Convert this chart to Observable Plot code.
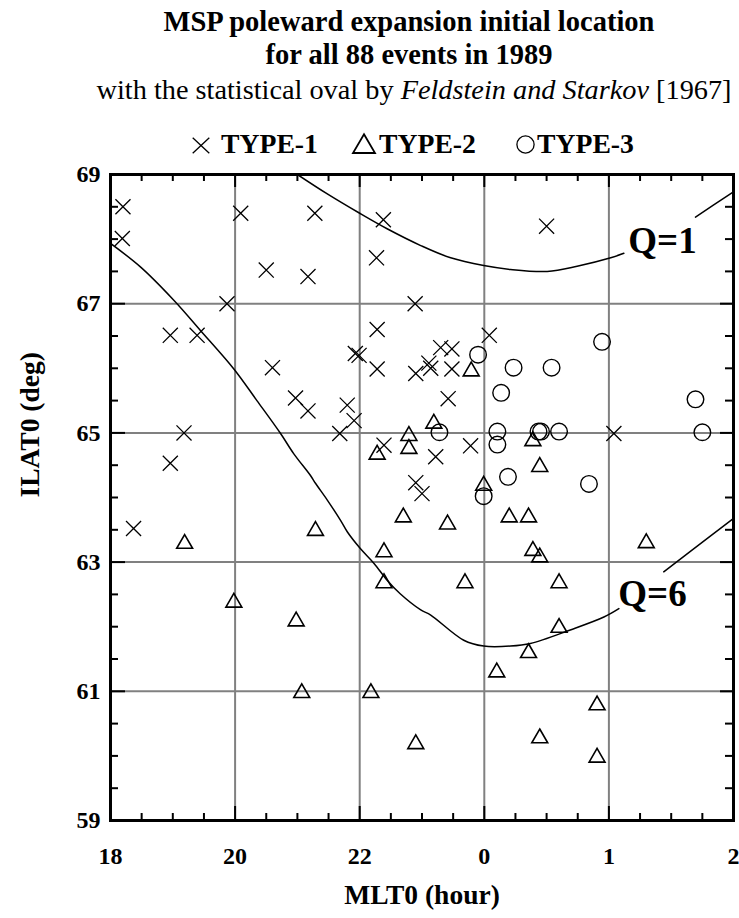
<!DOCTYPE html>
<html>
<head>
<meta charset="utf-8">
<script src="https://cdn.jsdelivr.net/npm/d3@7"></script>
<script src="https://cdn.jsdelivr.net/npm/@observablehq/plot@0.6"></script>
<style>
  html, body { margin: 0; padding: 0; background: #fff; }
  body { width: 739px; height: 918px; position: relative; overflow: hidden;
         font-family: "Liberation Serif", "Times New Roman", serif; color: #000; }
  .h { position: absolute; text-align: center; white-space: nowrap; line-height: 1; }
  .b { font-weight: bold; }
  .leg { position: absolute; white-space: nowrap; line-height: 1; font-weight: bold; font-size: 27.7px; }
  .sym { position: absolute; overflow: visible; }
  #chart { position: absolute; left: 0; top: 160px; }
</style>
</head>
<body>
<div class="h b" style="left:109px;width:600px;top:7.8px;font-size:28.5px">MSP poleward expansion initial location</div>
<div class="h b" style="left:109px;width:600px;top:41.1px;font-size:28.5px">for all 88 events in 1989</div>
<div class="h" style="left:14px;width:800px;top:76.3px;font-size:28.3px">with the statistical oval by <i>Feldstein and Starkov</i> [1967]</div>

<svg class="sym" style="left:192px;top:136.5px" width="18" height="17"><path d="M0.7,0.7L17.3,16.3M17.3,0.7L0.7,16.3" stroke="#000" stroke-width="1.3" fill="none"/></svg>
<div class="leg" style="left:221px;top:129.8px">TYPE-1</div>
<svg class="sym" style="left:352px;top:133px" width="24" height="21"><polygon points="12,1.2 23,20 1,20" stroke="#000" stroke-width="1.8" fill="none"/></svg>
<div class="leg" style="left:379px;top:129.8px">TYPE-2</div>
<svg class="sym" style="left:515.5px;top:135px" width="19" height="19"><circle cx="9.5" cy="9.5" r="8.6" stroke="#000" stroke-width="1.3" fill="none"/></svg>
<div class="leg" style="left:537px;top:129.8px">TYPE-3</div>

<div id="chart"></div>

<script>
// ---------- axis ticks ----------
const xTicks = [18, 20, 22, 24, 26, 28];
const xTickLabels = ["18", "20", "22", "0", "1", "2"];
const xGrid = [20, 22, 24, 26];
const xMinor = [18.5, 19, 19.5, 20.5, 21, 21.5, 22.5, 23, 23.5, 24.5, 25, 25.5, 26.5, 27, 27.5];
const yTicks = [59, 61, 63, 65, 67, 69];
const yGrid = [61, 63, 65, 67];
const yMinor = [59.5, 60, 60.5, 61.5, 62, 62.5, 63.5, 64, 64.5, 65.5, 66, 66.5, 67.5, 68, 68.5];

// ---------- TYPE-1 events (x) ----------
const type1MLT = [18.20, 18.19, 20.09, 21.28, 22.38, 22.27, 20.50, 21.17, 19.87, 22.89,
                  18.96, 19.39, 22.28, 21.93, 21.99, 20.60, 22.28, 22.90, 20.97, 21.17,
                  21.80, 21.91, 21.68, 19.18, 18.96, 22.39, 22.90, 23.00, 25.00, 24.08,
                  23.30, 23.48, 23.11, 23.14, 23.48, 23.42, 23.78, 23.22, 26.08, 18.37];
const type1ILAT = [68.50, 68.01, 68.40, 68.40, 68.30, 67.71, 67.52, 67.42, 67.00, 67.00,
                   66.51, 66.51, 66.60, 66.23, 66.20, 66.01, 65.99, 65.92, 65.54, 65.34,
                   65.43, 65.19, 64.99, 65.00, 64.53, 64.81, 64.23, 64.06, 68.20, 66.51,
                   66.32, 66.30, 66.08, 66.00, 65.99, 65.53, 64.80, 64.63, 64.99, 63.52];

// ---------- TYPE-2 events (triangle) ----------
const type2MLT = [22.79, 22.79, 22.28, 23.79, 23.19, 24.78, 24.89, 23.99, 23.41, 24.40,
                  24.71, 24.78, 24.89, 26.60, 23.69, 25.20, 25.20, 24.71, 24.20, 25.81,
                  24.89, 25.81, 22.90, 19.19, 21.29, 22.70, 22.39, 22.39, 19.98, 20.98,
                  21.07, 22.18];
const type2ILAT = [64.99, 64.79, 64.70, 65.99, 65.18, 64.91, 64.51, 64.22, 63.62, 63.73,
                   63.73, 63.21, 63.11, 63.33, 62.71, 62.71, 62.02, 61.63, 61.33, 60.82,
                   60.31, 60.01, 60.22, 63.32, 63.52, 63.73, 63.19, 62.71, 62.41, 62.12,
                   61.01, 61.01];

// ---------- TYPE-3 events (circle) ----------
const type3MLT = [23.90, 24.47, 25.08, 25.89, 24.27, 27.39, 23.28, 24.21, 24.21, 24.87,
                  24.91, 25.20, 27.50, 24.38, 25.68, 23.99];
const type3ILAT = [66.21, 66.01, 66.01, 66.41, 65.62, 65.52, 65.01, 65.02, 64.82, 65.02,
                   65.02, 65.02, 65.01, 64.32, 64.21, 64.02];

// ---------- Feldstein & Starkov oval boundaries ----------
const q1Seg = ["a","a","a","a","a","a","a","a","a","a","a","a","b","b","b"];
const q1MLT = [21.00, 21.48, 22.00, 22.44, 22.98, 23.46, 23.99, 24.42, 25.01, 25.49, 26.03, 26.24, 27.39, 27.95, 28.00];
const q1ILAT = [69.00, 68.70, 68.40, 68.16, 67.90, 67.71, 67.59, 67.53, 67.50, 67.58, 67.71, 67.78, 68.34, 68.70, 68.73];

const q6Seg = ["a","a","a","a","a","a","a","a","a","a","a","a","a","a","a","a","a","a","a","a","a","a","a","a","a","a","b","b","b"];
const q6MLT = [17.92, 18.48, 19.02, 19.44, 19.98, 20.35, 20.73, 20.94, 21.21, 21.29, 21.48, 21.69, 21.80, 22.01, 22.23,
               22.44, 22.65, 22.98, 23.14, 23.67, 23.99, 24.42, 24.74, 25.38, 25.92, 26.16, 26.88, 27.68, 27.98];
const q6ILAT = [67.99, 67.57, 67.05, 66.59, 65.99, 65.50, 64.99, 64.68, 64.34, 64.22, 63.96, 63.65, 63.47, 63.21, 62.98,
                62.72, 62.51, 62.26, 62.18, 61.79, 61.70, 61.70, 61.74, 61.95, 62.15, 62.28, 62.85, 63.44, 63.66];

const qLabels = ["Q=1", "Q=6"];
const qLabelMLT = [26.86, 26.70];
const qLabelILAT = [67.97, 62.50];

// ---------- build tables ----------
const zip = (xs, ys) => xs.map((x, i) => ({x, y: ys[i]}));
const type1 = zip(type1MLT, type1ILAT);
const type2 = zip(type2MLT, type2ILAT);
const type3 = zip(type3MLT, type3ILAT);
const q1 = q1MLT.map((x, i) => ({x, y: q1ILAT[i], seg: q1Seg[i]}));
const q6 = q6MLT.map((x, i) => ({x, y: q6ILAT[i], seg: q6Seg[i]}));
const labels = qLabels.map((t, i) => ({t, x: qLabelMLT[i], y: qLabelILAT[i]}));

const W = 739, H = 758, mT = 14, mB = 98, mL = 110, mR = 6;
const innerW = W - mL - mR, innerH = H - mT - mB;
const tickStroke = {stroke: "black", strokeWidth: 2};

const chart = Plot.plot({
  width: W, height: H,
  marginTop: mT, marginBottom: mB, marginLeft: mL, marginRight: mR,
  x: {domain: [18, 28]},
  y: {domain: [59, 69]},
  style: {fontFamily: "'Liberation Serif', 'Times New Roman', serif", fontWeight: "bold", background: "white", color: "black", overflow: "visible"},
  marks: [
    Plot.ruleX(xGrid, {stroke: "#808080", strokeWidth: 2}),
    Plot.ruleY(yGrid, {stroke: "#808080", strokeWidth: 2}),
    // inward ticks: bottom / top
    Plot.ruleX(xMinor, {...tickStroke, insetTop: innerH - 7}),
    Plot.ruleX(xMinor, {...tickStroke, insetBottom: innerH - 7}),
    Plot.ruleX(xGrid, {...tickStroke, insetTop: innerH - 14}),
    Plot.ruleX(xGrid, {...tickStroke, insetBottom: innerH - 13}),
    // inward ticks: left / right
    Plot.ruleY(yMinor, {...tickStroke, insetRight: innerW - 8}),
    Plot.ruleY(yMinor, {...tickStroke, insetLeft: innerW - 8}),
    Plot.ruleY(yGrid, {...tickStroke, insetRight: innerW - 15}),
    Plot.ruleY(yGrid, {...tickStroke, insetLeft: innerW - 13}),
    // oval boundaries
    Plot.line(q1, {x: "x", y: "y", z: "seg", stroke: "black", strokeWidth: 1.5, curve: "catmull-rom", clip: true}),
    Plot.line(q6, {x: "x", y: "y", z: "seg", stroke: "black", strokeWidth: 1.5, curve: "catmull-rom", clip: true}),
    // events
    Plot.dot(type1, {x: "x", y: "y", symbol: "times", r: 6.9, fill: "none", stroke: "black", strokeWidth: 1.3}),
    Plot.dot(type2, {x: "x", y: "y", symbol: "triangle", r: 5.9, dy: 2.3, fill: "none", stroke: "black", strokeWidth: 1.6}),
    Plot.dot(type3, {x: "x", y: "y", symbol: "circle", r: 8.3, fill: "none", stroke: "black", strokeWidth: 1.4}),
    Plot.frame({stroke: "black", strokeWidth: 3}),
    Plot.text(labels, {x: "x", y: "y", text: "t", fontSize: 37, fontWeight: "bold", fill: "black"}),
    Plot.axisX({ticks: xTicks, tickFormat: (d) => xTickLabels[xTicks.indexOf(d)], tickSize: 0, tickPadding: 26, fontSize: 24, fontWeight: "bold", label: null}),
    Plot.axisY({ticks: yTicks, tickFormat: (d) => String(d), tickSize: 0, tickPadding: 10, fontSize: 24, fontWeight: "bold", label: null}),
    Plot.text(["MLT0 (hour)"], {text: (d) => d, frameAnchor: "bottom", dy: 83, fontSize: 27.5, fontWeight: "bold", fill: "black"}),
    Plot.text(["ILAT0 (deg)"], {text: (d) => d, frameAnchor: "left", dx: -80, rotate: -90, fontSize: 27.5, fontWeight: "bold", fill: "black"})
  ]
});
document.getElementById("chart").appendChild(chart);
</script>
</body>
</html>
